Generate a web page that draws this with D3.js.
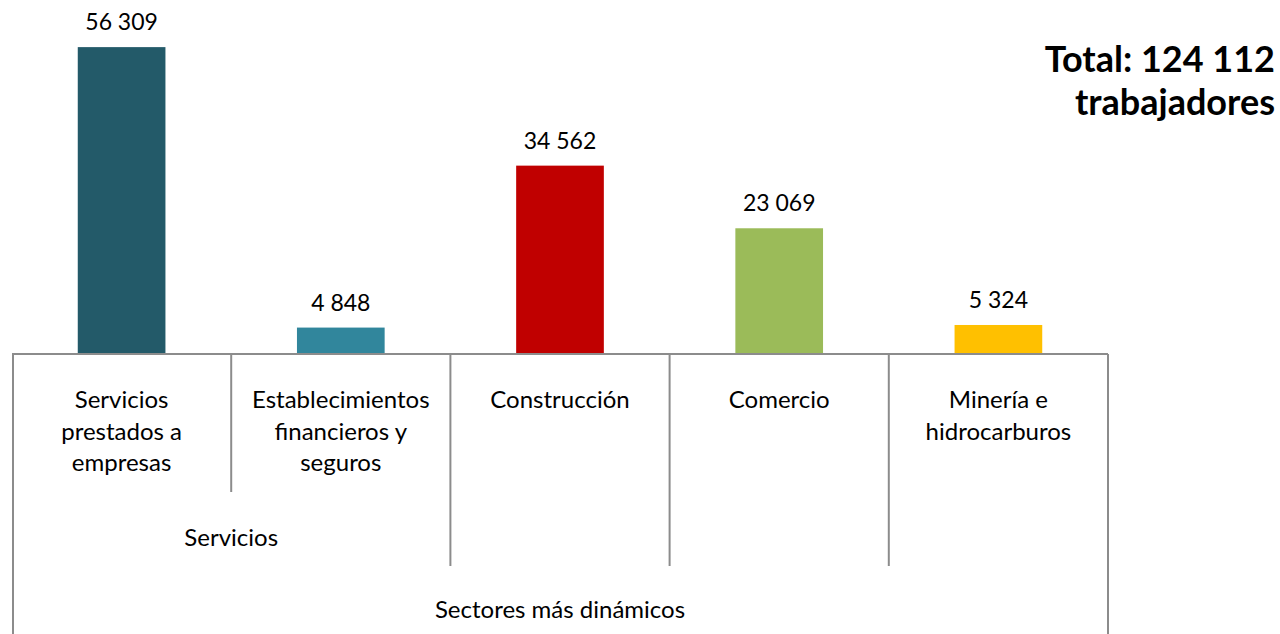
<!DOCTYPE html>
<html>
<head>
<meta charset="utf-8">
<script src="https://cdn.jsdelivr.net/npm/d3@7"></script>
<style>
  body { margin: 0; background: #fff; }
  text { font-family: Lato, "Open Sans", sans-serif; fill: #000; }
</style>
</head>
<body>
<div id="chart"></div>
<script>
// data
const categories = [
  ["Servicios", "prestados a", "empresas"],
  ["Establecimientos", "financieros y", "seguros"],
  ["Construcción"],
  ["Comercio"],
  ["Minería e", "hidrocarburos"]
];
const values = [56309, 4848, 34562, 23069, 5324];
const colors = ["#235A69", "#31869C", "#C00000", "#9BBB59", "#FFC000"];
// second level groups: [label, first index, last index]
const groups = [["Servicios", 0, 1], ["", 2, 2], ["", 3, 3], ["", 4, 4]];
const topLabel = "Sectores más dinámicos";
const totalLines = ["Total: 124 112", "trabajadores"];

const width = 1280, height = 634;
const left = 12, right = 1108, base = 354;

const svg = d3.select("#chart").append("svg")
    .attr("width", width)
    .attr("height", height);

const x = d3.scaleBand()
    .domain(d3.range(values.length))
    .range([left, right])
    .paddingInner(0)
    .paddingOuter(0);

const y = d3.scaleLinear()
    .domain([0, 60000])
    .range([base, 27]);

const fmt = v => d3.format(",")(v).replace(/,/g, " ");

// bars
const barW = x.bandwidth() * 0.4;
svg.selectAll("rect.bar")
  .data(values)
  .join("rect")
    .attr("class", "bar")
    .attr("x", (d, i) => x(i) + (x.bandwidth() - barW) / 2)
    .attr("y", d => y(d))
    .attr("width", barW)
    .attr("height", d => y(0) - y(d))
    .attr("fill", (d, i) => colors[i]);

// value labels
svg.selectAll("text.val")
  .data(values)
  .join("text")
    .attr("class", "val")
    .attr("x", (d, i) => x(i) + x.bandwidth() / 2)
    .attr("y", d => y(d) - 17)
    .attr("text-anchor", "middle")
    .style("font-size", "23px")
    .text(d => fmt(d));

// axis lines
const lineColor = "#8c8c8c";
const axis = svg.append("g").attr("stroke", lineColor).attr("stroke-width", 2);
axis.append("line").attr("x1", left).attr("x2", right).attr("y1", base).attr("y2", base);
axis.append("line").attr("x1", left + 1).attr("x2", left + 1).attr("y1", base).attr("y2", height);
axis.append("line").attr("x1", right).attr("x2", right).attr("y1", base).attr("y2", height);

// dividers between categories
for (let i = 1; i < values.length; i++) {
  const g = groups.find(gr => i > gr[1] && i <= gr[2]);
  const yEnd = g ? 492 : 566;
  axis.append("line")
    .attr("x1", x(i)).attr("x2", x(i))
    .attr("y1", base).attr("y2", yEnd);
}

// first level labels
categories.forEach((lines, i) => {
  const t = svg.append("text")
    .attr("text-anchor", "middle")
    .style("font-size", "24px");
  lines.forEach((ln, j) => {
    t.append("tspan")
      .attr("x", x(i) + x.bandwidth() / 2)
      .attr("y", 408 + j * 31.5)
      .text(ln);
  });
});

// second level labels
groups.filter(g => g[0]).forEach(g => {
  svg.append("text")
    .attr("x", (x(g[1]) + x(g[2]) + x.bandwidth()) / 2)
    .attr("y", 546)
    .attr("text-anchor", "middle")
    .style("font-size", "24px")
    .text(g[0]);
});

// top level label
svg.append("text")
  .attr("x", (left + right) / 2)
  .attr("y", 618)
  .attr("text-anchor", "middle")
  .style("font-size", "24px")
  .text(topLabel);

// total
svg.append("g").selectAll("text")
  .data(totalLines)
  .join("text")
    .attr("x", 1275)
    .attr("y", (d, i) => 72 + i * 43)
    .attr("text-anchor", "end")
    .style("font-size", "36px")
    .style("font-weight", "bold")
    .text(d => d);
</script>
</body>
</html>
